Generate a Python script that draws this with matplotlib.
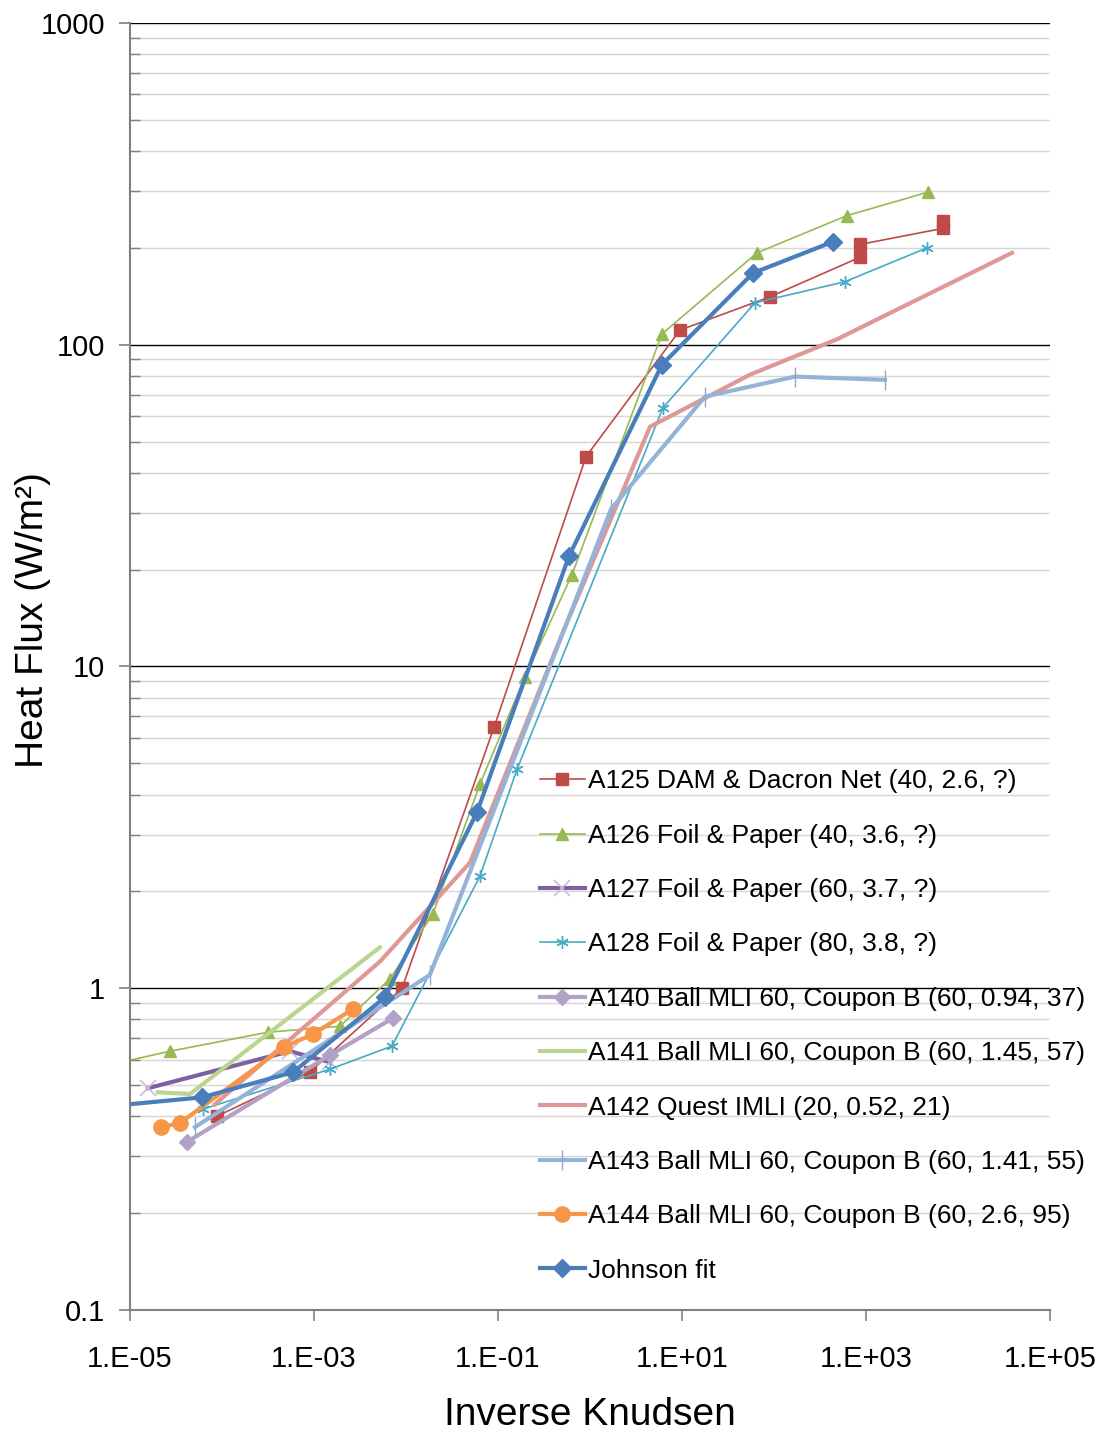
import matplotlib

matplotlib.use("Agg")
import matplotlib.pyplot as plt
import numpy as np
from matplotlib.ticker import FixedLocator, FuncFormatter, NullFormatter

# inverse Knudsen number vs. heat flux (W/m2), one pair of lists per test
a125_x = [8.8e-5, 9.1e-4, 9.06e-3, 0.0906, 0.906, 9.5, 90.6, 861, 861, 6870, 6870]
a125_y = [0.40, 0.55, 1.0, 6.47, 44.9, 111, 141, 187, 205, 230, 243]

a126_x = [3.67e-6, 2.72e-5, 3.16e-4, 1.92e-3, 6.7e-3, 0.0196, 0.0637, 0.196, 0.637, 6.06, 65.3, 621, 4720]
a126_y = [0.56, 0.637, 0.73, 0.762, 1.07, 1.70, 4.31, 9.25, 19.3, 108, 193, 252, 298]

a127_x = [1.57e-5, 5.48e-4, 1.49e-3]
a127_y = [0.489, 0.637, 0.589]

a128_x = [6.2e-5, 1.49e-3, 7.05e-3, 0.0637, 0.161, 6.21, 62.1, 591, 4600]
a128_y = [0.421, 0.560, 0.661, 2.23, 4.79, 63.7, 135, 157, 200]

a140_x = [4.17e-5, 1.49e-3, 7.2e-3]
a140_y = [0.333, 0.619, 0.807]

a141_x = [2.01e-5, 4.49e-5, 5.21e-3]
a141_y = [0.475, 0.469, 1.34]

a142_x = [8.4e-5, 5.21e-3, 0.0497, 0.509, 4.49, 54.8, 484, 38600]
a142_y = [0.436, 1.21, 2.46, 12.8, 55.6, 80.7, 104, 193]

a143_x = [5.09e-5, 0.0182, 1.69, 17.8, 169, 1610]
a143_y = [0.370, 1.10, 30.8, 69, 79.6, 77.8]

a144_x = [2.17e-5, 3.49e-5, 4.72e-4, 9.75e-4, 2.65e-3]
a144_y = [0.370, 0.381, 0.656, 0.720, 0.861]

johnson_x = [6.06e-6, 6.06e-5, 5.91e-4, 5.91e-3, 0.0591, 0.591, 6.06, 59.1, 438]
johnson_y = [0.43, 0.458, 0.548, 0.937, 3.52, 22.0, 86.7, 167, 209]

series = [
    ("A125 DAM & Dacron Net (40, 2.6, ?)", a125_x, a125_y,
     dict(color="#BE4B48", lw=1.2, marker="s", ms=8.5)),
    ("A126 Foil & Paper (40, 3.6, ?)", a126_x, a126_y,
     dict(color="#98B954", lw=1.2, marker="^", ms=8.5)),
    ("A127 Foil & Paper (60, 3.7, ?)", a127_x, a127_y,
     dict(color="#7D60A0", lw=3.0, marker="x", ms=11, mec="#C8BEDA", mew=1.2)),
    ("A128 Foil & Paper (80, 3.8, ?)", a128_x, a128_y,
     dict(color="#46AAC5", lw=1.2, marker=(6, 2, 0), ms=9, mew=1.0)),
    ("A140 Ball MLI 60, Coupon B (60, 0.94, 37)", a140_x, a140_y,
     dict(color="#B3A2C7", lw=3.0, marker="D", ms=8.5)),
    ("A141 Ball MLI 60, Coupon B (60, 1.45, 57)", a141_x, a141_y,
     dict(color="#BAD590", lw=3.0)),
    ("A142 Quest IMLI (20, 0.52, 21)", a142_x, a142_y,
     dict(color="#DE9896", lw=3.0)),
    ("A143 Ball MLI 60, Coupon B (60, 1.41, 55)", a143_x, a143_y,
     dict(color="#95B3D7", lw=3.0, marker="|", ms=14, mew=1.0, mec="#8FA8CF")),
    ("A144 Ball MLI 60, Coupon B (60, 2.6, 95)", a144_x, a144_y,
     dict(color="#F79646", lw=3.0, marker="o", ms=11)),
    ("Johnson fit", johnson_x, johnson_y,
     dict(color="#4A7EBB", lw=3.0, marker="D", ms=9)),
]

plt.rcParams.update(
    {
        "font.family": ["Liberation Sans", "DejaVu Sans"],
        "font.size": 20,
    }
)

fig = plt.figure(figsize=(11.07, 14.37), dpi=100)
ax = fig.add_axes([0.1174, 0.0884, 0.8311, 0.8956])
ax.set_xscale("log")
ax.set_yscale("log")
ax.set_xlim(1e-5, 1e5)
ax.set_ylim(0.1, 1000)

for label, xs, ys, style in series:
    ax.plot(xs, ys, label=label, **style)

# decade lines in black, the 2..9 subdivisions in light grey
ax.yaxis.set_major_locator(FixedLocator([0.1, 1, 10, 100, 1000]))
minor = [m * 10.0 ** e for e in range(-1, 3) for m in range(2, 10)]
ax.yaxis.set_minor_locator(FixedLocator(minor))
ax.yaxis.set_minor_formatter(NullFormatter())
ax.yaxis.set_major_formatter(FuncFormatter(lambda v, _: f"{v:g}"))
ax.grid(axis="y", which="major", color="#000000", lw=1.0)
ax.grid(axis="y", which="minor", color="#D6D6D6", lw=1.0)
ax.set_axisbelow(True)

ax.xaxis.set_major_locator(FixedLocator([10.0 ** e for e in range(-5, 6, 2)]))
ax.xaxis.set_minor_locator(FixedLocator([]))
ax.xaxis.set_major_formatter(
    FuncFormatter(lambda v, _: f"1.E{int(round(np.log10(v))):+03d}")
)

for side in ("top", "right"):
    ax.spines[side].set_visible(False)
for side in ("left", "bottom"):
    ax.spines[side].set_color("#808080")
    ax.spines[side].set_linewidth(1.5)
ax.tick_params(which="major", length=8, width=1.2, color="#808080", labelsize=21)
ax.tick_params(axis="x", which="major", pad=17)
ax.tick_params(axis="y", which="major", pad=10)
ax.tick_params(axis="y", which="minor", direction="in", length=7, width=1.0, color="#808080")

fig.text(0.533, 0.0153, "Inverse Knudsen", fontsize=28, ha="center", va="center")
fig.text(0.030, 0.5685, "Heat Flux (W/m²)", fontsize=28, rotation=90,
         ha="center", va="center")

ax.legend(
    loc="upper left",
    bbox_to_anchor=(0.4457, 0.420),
    frameon=False,
    fontsize=19,
    borderpad=0,
    borderaxespad=0,
    labelspacing=1.15,
    handlelength=1.7,
    handletextpad=0.1,
)

fig.savefig("out.png", dpi=100)
